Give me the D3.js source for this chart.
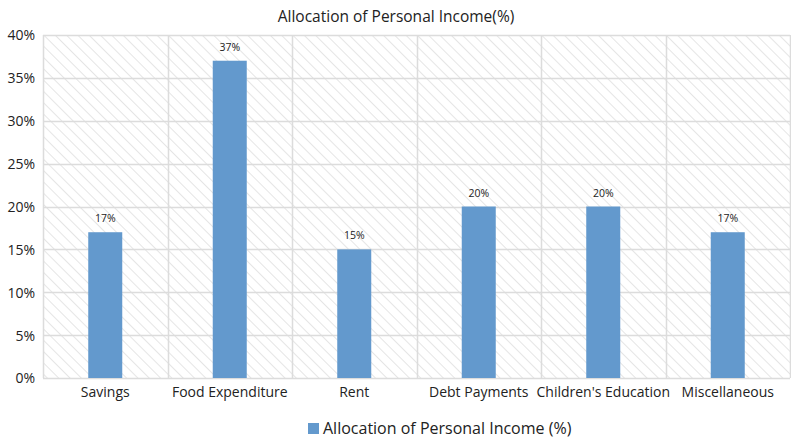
<!DOCTYPE html>
<html>
<head>
<meta charset="utf-8">
<script src="https://cdn.jsdelivr.net/npm/d3@7"></script>
<style>
  html, body { margin: 0; padding: 0; background: #fff; }
  text { font-family: "Open Sans", sans-serif; fill: #222; }
</style>
</head>
<body>
<svg id="chart" width="791" height="441"></svg>
<script>
const categories = ["Savings", "Food Expenditure", "Rent", "Debt Payments", "Children's Education", "Miscellaneous"];
const values = [17, 37, 15, 20, 20, 17];
const yTicks = [0, 5, 10, 15, 20, 25, 30, 35, 40];
const seriesName = "Allocation of Personal Income (%)";
const titleText = "Allocation of Personal Income(%)";

const svg = d3.select("#chart");
const W = 791, H = 441;
const margin = { top: 35, right: 1, bottom: 63, left: 43 };
const plotW = W - margin.left - margin.right;
const plotH = H - margin.top - margin.bottom;

// diagonal hatch for the plot background
const defs = svg.append("defs");
const pat = defs.append("pattern")
  .attr("id", "hatch")
  .attr("patternUnits", "userSpaceOnUse")
  .attr("width", 8).attr("height", 8)
  .attr("patternTransform", "rotate(-45)");
pat.append("line")
  .attr("x1", 0).attr("y1", 0).attr("x2", 0).attr("y2", 8)
  .attr("stroke", "#cccccc").attr("stroke-width", 1);

const g = svg.append("g").attr("transform", `translate(${margin.left},${margin.top})`);

const x = d3.scaleBand().domain(categories).range([0, plotW]).paddingInner(0).paddingOuter(0);
const y = d3.scaleLinear().domain([0, 40]).range([plotH, 0]);

g.append("rect")
  .attr("x", 0).attr("y", 0).attr("width", plotW).attr("height", plotH)
  .attr("fill", "url(#hatch)");

// horizontal gridlines
g.append("g")
  .selectAll("line")
  .data(yTicks)
  .join("line")
  .attr("x1", 0).attr("x2", plotW)
  .attr("y1", d => Math.round(y(d)) + 0.5).attr("y2", d => Math.round(y(d)) + 0.5)
  .attr("stroke", "#dcdcdc").attr("stroke-width", 1.5);

// vertical category separators
const bounds = categories.map(c => x(c)).concat([plotW]);
g.append("g")
  .selectAll("line")
  .data(bounds)
  .join("line")
  .attr("x1", d => Math.round(d) + 0.5).attr("x2", d => Math.round(d) + 0.5)
  .attr("y1", 0).attr("y2", plotH)
  .attr("stroke", "#dcdcdc").attr("stroke-width", 1.5);

// bars
const barW = 34;
g.append("g")
  .selectAll("rect")
  .data(values)
  .join("rect")
  .attr("x", (d, i) => x(categories[i]) + x.bandwidth() / 2 - barW / 2)
  .attr("y", d => y(d))
  .attr("width", barW)
  .attr("height", d => plotH - y(d))
  .attr("fill", "#6399cd");

// value labels
g.append("g")
  .selectAll("text")
  .data(values)
  .join("text")
  .attr("x", (d, i) => x(categories[i]) + x.bandwidth() / 2)
  .attr("y", d => y(d) - 10)
  .attr("text-anchor", "middle")
  .style("font-size", "10.5px")
  .text(d => d + "%");

// y axis
const yAxis = d3.axisLeft(y).tickValues(yTicks).tickFormat(d => d + "%").tickSize(0).tickPadding(8);
g.append("g").call(yAxis)
  .call(s => s.select(".domain").remove())
  .selectAll("text")
  .style("font-size", "14px")
  .attr("dy", "0.35em");

// x axis
const xAxis = d3.axisBottom(x).tickSize(0).tickPadding(9);
g.append("g").attr("transform", `translate(0,${plotH})`).call(xAxis)
  .call(s => s.select(".domain").remove())
  .selectAll("text")
  .style("font-size", "14px");

// title
svg.append("text")
  .attr("x", 396).attr("y", 22)
  .attr("text-anchor", "middle")
  .style("font-size", "15.5px")
  .text(titleText);

// legend
const legend = svg.append("g").attr("transform", "translate(308,423)");
legend.append("rect").attr("width", 11).attr("height", 11).attr("fill", "#6399cd");
legend.append("text").attr("x", 15).attr("y", 5.5).attr("dy", "0.35em")
  .style("font-size", "16px").text(seriesName);
</script>
</body>
</html>
